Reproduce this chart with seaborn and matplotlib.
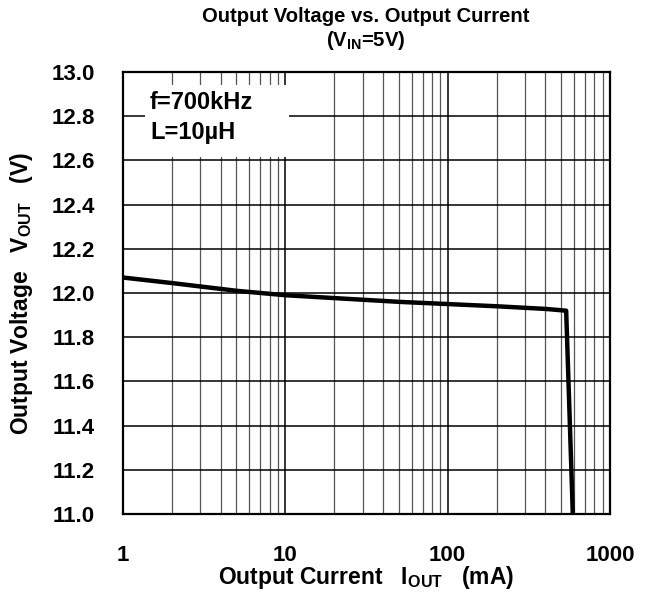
import numpy as np
import pandas as pd
import matplotlib
matplotlib.use("Agg")
import matplotlib.pyplot as plt
import seaborn as sns
from matplotlib.patches import Rectangle
from matplotlib.ticker import LogLocator, FixedLocator, NullFormatter

# Load regulation curve: output voltage vs. load current
current_mA = [1, 2, 5, 10, 20, 50, 100, 200, 400, 537, 590]
voltage_V = [12.07, 12.045, 12.01, 11.99, 11.977, 11.96, 11.95, 11.94, 11.928, 11.92, 11.0]

x_ticks = [1, 10, 100, 1000]
x_tick_labels = ["1", "10", "100", "1000"]
y_ticks = [11.0, 11.2, 11.4, 11.6, 11.8, 12.0, 12.2, 12.4, 12.6, 12.8, 13.0]
y_tick_labels = ["11.0", "11.2", "11.4", "11.6", "11.8", "12.0", "12.2", "12.4", "12.6", "12.8", "13.0"]

sns.set_style("white")
plt.rcParams["font.family"] = ["Liberation Sans", "DejaVu Sans"]
plt.rcParams["font.weight"] = "bold"
plt.rcParams["text.color"] = "black"
plt.rcParams["axes.labelcolor"] = "black"
plt.rcParams["xtick.color"] = "black"
plt.rcParams["ytick.color"] = "black"
plt.rcParams["mathtext.fontset"] = "custom"
plt.rcParams["mathtext.rm"] = "Liberation Sans:bold"
plt.rcParams["mathtext.bf"] = "Liberation Sans:bold"
plt.rcParams["mathtext.it"] = "Liberation Sans:bold"

df = pd.DataFrame({"current": current_mA, "voltage": voltage_V})

W, H = 653, 596
fig = plt.figure(figsize=(W / 100, H / 100), dpi=100)
ax = fig.add_axes([123 / W, 1 - 514 / H, (610 - 123) / W, (514 - 72) / H])

ax.set_xscale("log")
ax.set_xlim(1, 1000)
ax.set_ylim(11.0, 13.0)

# grid: decades and 0.2 V steps in black, sub-decades lighter
ax.xaxis.set_major_locator(FixedLocator(x_ticks))
ax.xaxis.set_minor_locator(LogLocator(base=10, subs=np.arange(2, 10)))
ax.xaxis.set_minor_formatter(NullFormatter())
ax.set_xticks(x_ticks)
ax.set_xticklabels(x_tick_labels)
ax.set_yticks(y_ticks)
ax.set_yticklabels(y_tick_labels)
ax.grid(which="major", axis="both", color="black", linewidth=1.1)
ax.grid(which="minor", axis="x", color="#555555", linewidth=0.9)
ax.set_axisbelow(True)
ax.tick_params(axis="both", which="both", length=0, labelsize=16,
               labelcolor="black")
ax.tick_params(axis="y", pad=20)
ax.tick_params(axis="x", pad=22)
for lab in ax.get_xticklabels() + ax.get_yticklabels():
    lab.set_fontweight("bold")

for sp in ax.spines.values():
    sp.set_color("black")
    sp.set_linewidth(1.6)

sns.lineplot(data=df, x="current", y="voltage", ax=ax, color="black",
             linewidth=3.2, zorder=5, clip_on=True)

# condition note on a white patch that hides the grid behind it
fig.patches.append(Rectangle((145 / W, 1 - 157 / H), (289 - 145) / W, (157 - 85) / H,
                             transform=fig.transFigure, facecolor="white",
                             edgecolor="none", zorder=3))
fig.text(150 / W, 1 - 103 / H, "f=700kHz", fontsize=17, fontweight="bold",
         va="center", ha="left", zorder=6, color="black")
fig.text(150 / W, 1 - 132 / H, "L=10\u00b5H", fontsize=17, fontweight="bold",
         va="center", ha="left", zorder=6, color="black")

ax.set_xlabel(r"Output Current   $\mathregular{I_{OUT}}$   (mA)", fontsize=16.5,
              fontweight="bold", labelpad=-1, color="black")
ax.set_ylabel(r"Output Voltage   $\mathregular{V_{OUT}}$   (V)", fontsize=16.5,
              fontweight="bold", labelpad=12, color="black")

fig.text(366 / W, 1 - 17 / H, "Output Voltage vs. Output Current", ha="center",
         va="center", fontsize=14.6, fontweight="bold", color="black")
fig.text(366 / W, 1 - 40 / H, r"($\mathregular{V_{IN}}$=5V)", ha="center",
         va="center", fontsize=14.6, fontweight="bold", color="black")

fig.savefig("out.png", dpi=100, facecolor="white")
